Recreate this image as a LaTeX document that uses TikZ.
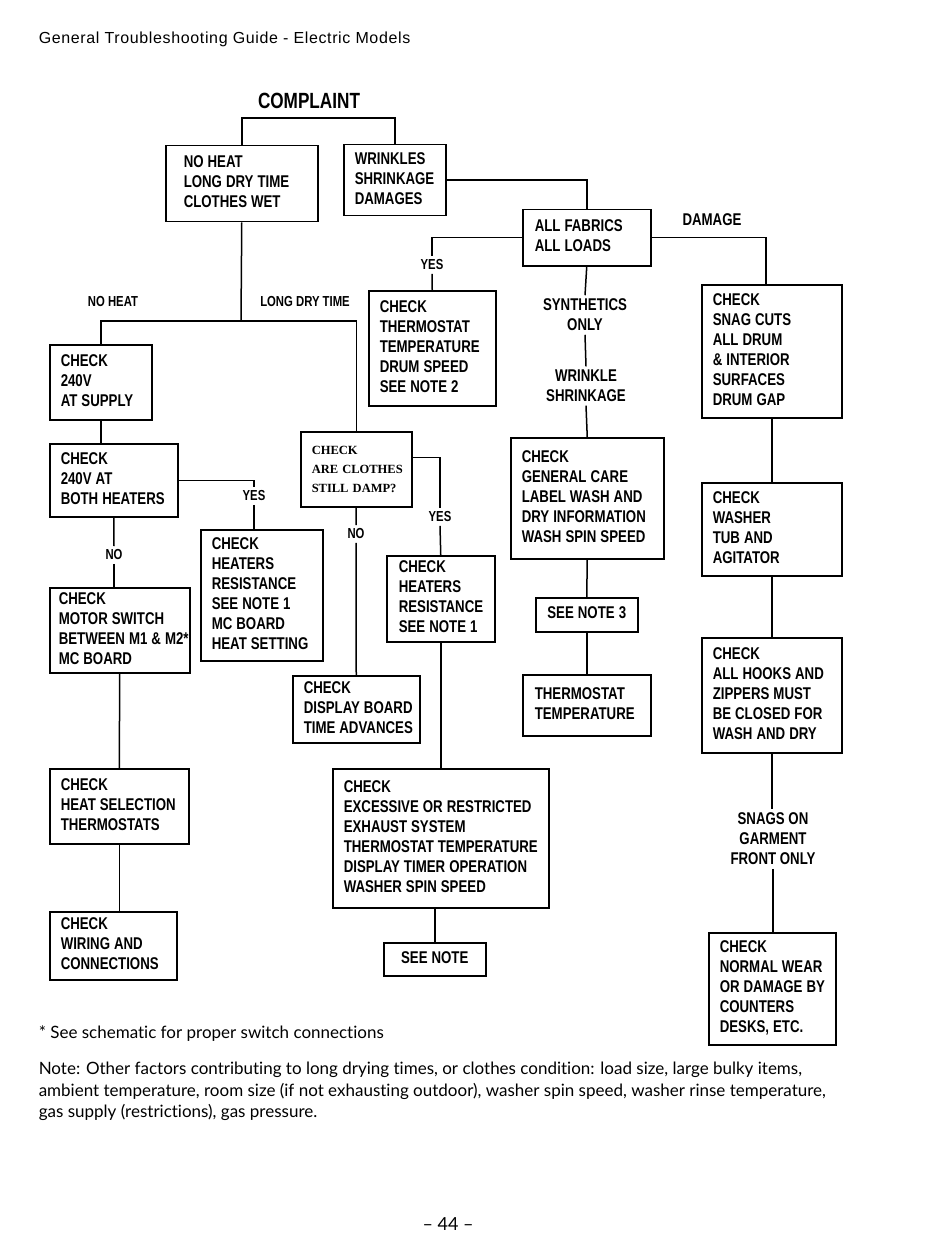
\documentclass[tikz,border=0pt]{standalone}
\usepackage{fontspec}
\newfontfamily\chartfont[FakeStretch=0.78]{Liberation Sans}
\newfontfamily\dampfont{Liberation Serif}
\newfontfamily\notefont[Ligatures=NoCommon]{Lato}
\newfontfamily\headfont[LetterSpace=4]{Liberation Sans}
\newcommand\rows[1]{\spaceskip=4pt\relax\begin{tabular}{@{}l@{}}#1\end{tabular}}
\newcommand\boxfont{\chartfont\bfseries\fontsize{17}{20}\selectfont}
\newcommand\tagfont{\chartfont\bfseries\fontsize{14.5}{17}\selectfont}

\tikzset{
  box/.style={draw, line width=1.5pt, anchor=north west, inner ysep=0pt, inner xsep=11pt,
    align=left, font=\boxfont},
  tag/.style={inner sep=3pt, align=center, font=\tagfont},
  bigtag/.style={inner sep=3pt, align=center, font=\boxfont},
  notetext/.style={anchor=base west, inner sep=0pt, font=\notefont\fontsize{17}{21}\selectfont}
}

\begin{document}
\begin{tikzpicture}[x=1pt, y=-1pt, line width=1.5pt]
  \useasboundingbox (0,0) rectangle (950,1241);

  \node[anchor=base west, inner sep=0pt, font=\headfont\fontsize{16}{18}\selectfont] (title) at (38,44)
    {General Troubleshooting Guide - Electric Models};
  \node[bigtag, font=\chartfont\bfseries\fontsize{22}{26}\selectfont] (complaint) at (309,101) {COMPLAINT};

  % first level
  \node[box, inner xsep=18pt, text width=116pt, minimum height=76pt] (noheat) at (165,145)
    {\rows{NO HEAT\\LONG DRY TIME\\CLOTHES WET}};
  \node[box, text width=80pt, minimum height=71pt] (wrinkles) at (343,144)
    {\rows{WRINKLES\\SHRINKAGE\\DAMAGES}};
  \draw (noheat.north) -- ++(0,-27) -| (wrinkles.north);

  % wrinkles branch
  \node[box, inner xsep=12pt, text width=104pt, minimum height=56pt] (fabrics) at (522,209)
    {\rows{ALL FABRICS\\ALL LOADS}};
  \draw (wrinkles.east) -| (fabrics.north);

  \node[tag] (yes1) at (432,265) {YES};
  \node[box, text width=105pt, minimum height=115pt] (thermo) at (368,290)
    {\rows{CHECK\\THERMOSTAT\\TEMPERATURE\\DRUM SPEED\\SEE NOTE 2}};
  \draw (fabrics.west) -| (yes1.north);
  \draw (yes1.south) -- (thermo.north);

  \node[bigtag] (synth) at (585,315) {SYNTHETICS\\ONLY};
  \node[bigtag] (wrink) at (586,386) {WRINKLE\\SHRINKAGE};
  \node[box, text width=131pt, minimum height=121pt] (care) at (510,437)
    {\rows{CHECK\\GENERAL CARE\\LABEL WASH AND\\DRY INFORMATION\\WASH SPIN SPEED}};
  \node[box, align=center, text width=80pt, minimum height=34pt] (note3) at (535,597) {\rows{SEE NOTE 3}};
  \node[box, inner xsep=12pt, text width=104pt, minimum height=61pt] (thermtemp) at (522,674)
    {\rows{THERMOSTAT\\TEMPERATURE}};
  \draw (fabrics.south) -- (synth.north);
  \draw (synth.south) -- (wrink.north);
  \draw (wrink.south) -- (care.north);
  \draw (care.south) -- (note3.north);
  \draw (note3.south) -- (thermtemp.north);

  % damage branch
  \node[bigtag] (damage) at (712,220) {DAMAGE};
  \node[box, text width=118pt, minimum height=133pt] (snag) at (701,284)
    {\rows{CHECK\\SNAG CUTS\\ALL DRUM\\\& INTERIOR\\SURFACES\\DRUM GAP}};
  \node[box, text width=118pt, minimum height=93pt] (washer) at (701,482)
    {\rows{CHECK\\WASHER\\TUB AND\\AGITATOR}};
  \node[box, text width=118pt, minimum height=115pt] (hooks) at (701,637)
    {\rows{CHECK\\ALL HOOKS AND\\ZIPPERS MUST\\BE CLOSED FOR\\WASH AND DRY}};
  \node[bigtag] (front) at (773,839) {SNAGS ON\\GARMENT\\FRONT ONLY};
  \node[box, text width=105pt, minimum height=112pt] (wear) at (708,932)
    {\rows{CHECK\\NORMAL WEAR\\OR DAMAGE BY\\COUNTERS\\DESKS, ETC.}};
  \draw (fabrics.east) -| ([xshift=-6pt]snag.north);
  \draw (snag.south) -- (washer.north);
  \draw (washer.south) -- (hooks.north);
  \draw (hooks.south) -- (hooks.south |- front.north);
  \draw (front.south) -- (front.south |- wear.north);

  % no heat / long dry time split
  \coordinate (split) at (241,321);
  \node[tag] (nh) at (113,302) {NO HEAT};
  \node[tag] (ldt) at (305,302) {LONG DRY TIME};
  \draw (noheat.south) -- (split);

  % no heat column
  \node[box, text width=80pt, minimum height=75pt] (supply) at (49,344)
    {\rows{CHECK\\240V\\AT SUPPLY}};
  \node[box, text width=106pt, minimum height=73pt] (volts) at (49,443)
    {\rows{CHECK\\240V AT\\BOTH HEATERS}};
  \node[tag] (yes2) at (254,496) {YES};
  \node[box, text width=100pt, minimum height=131pt] (heatres) at (200,529)
    {\rows{CHECK\\HEATERS\\RESISTANCE\\SEE NOTE 1\\MC BOARD\\HEAT SETTING}};
  \node[tag] (no1) at (114,555) {NO};
  \node[box, inner xsep=9pt, text width=122pt, minimum height=85pt] (motor) at (49,587)
    {\rows{CHECK\\MOTOR SWITCH\\BETWEEN M1 \& M2*\\MC BOARD}};
  \node[box, text width=117pt, minimum height=75pt] (heatsel) at (49,768)
    {\rows{CHECK\\HEAT SELECTION\\THERMOSTATS}};
  \node[box, text width=105pt, minimum height=68pt] (wiring) at (49,911)
    {\rows{CHECK\\WIRING AND\\CONNECTIONS}};
  \draw (supply.south) -- (supply.south |- volts.north);
  \draw (volts.east) -| (yes2.north);
  \draw (yes2.south) -- (yes2.south |- heatres.north);
  \draw (volts.south) -- (no1.north);
  \draw (no1.south) -- (no1.south |- motor.north);
  \draw (motor.south) -- (heatsel.north);
  \draw (heatsel.south) -- (heatsel.south |- wiring.north);

  % long dry time column
  \node[box, text width=89pt, minimum height=75pt,
    font=\dampfont\bfseries\fontsize{12.5}{19}\selectfont] (damp) at (300,431)
    {\begin{tabular}{@{}l@{}}CHECK\\ARE CLOTHES\\STILL DAMP?\end{tabular}};
  \node[tag] (yes3) at (440,517) {YES};
  \node[tag] (no2) at (356,534) {NO};
  \node[box, inner xsep=12pt, text width=84pt, minimum height=86pt] (heatres2) at (386,555)
    {\rows{CHECK\\HEATERS\\RESISTANCE\\SEE NOTE 1}};
  \node[box, text width=105pt, minimum height=67pt] (display) at (292,675)
    {\rows{CHECK\\DISPLAY BOARD\\TIME ADVANCES}};
  \node[box, text width=194pt, minimum height=139pt] (exhaust) at (332,768)
    {\rows{CHECK\\EXCESSIVE OR RESTRICTED\\EXHAUST SYSTEM\\THERMOSTAT TEMPERATURE\\DISPLAY TIMER OPERATION\\WASHER SPIN SPEED}};
  \node[box, align=center, text width=80pt, minimum height=33pt] (seenote) at (383,942) {\rows{SEE NOTE}};
  \draw (supply.north) |- (split) -| (damp.north);
  \draw ([yshift=12pt]damp.east) -| (yes3.north);
  \draw (yes3.south) -- (heatres2.north);
  \draw (damp.south) -- (no2.north);
  \draw (no2.south) -- (display.north);
  \draw (heatres2.south) -- (exhaust.north);
  \draw (seenote.north |- exhaust.south) -- (seenote.north);

  % notes
  \node[notetext] (star) at (38,1038) {* See schematic for proper switch connections};
  \node[notetext] (note1) at (38,1074)
    {Note: Other factors contributing to long drying times, or clothes condition: load size, large bulky items,};
  \node[notetext] (note2) at (38,1096)
    {ambient temperature, room size (if not exhausting outdoor), washer spin speed, washer rinse temperature,};
  \node[notetext] (note3) at (38,1117) {gas supply (restrictions), gas pressure.};
  \node[font=\notefont\fontsize{18}{20}\selectfont] (page) at (448,1224) {– 44 –};
\end{tikzpicture}
\end{document}
